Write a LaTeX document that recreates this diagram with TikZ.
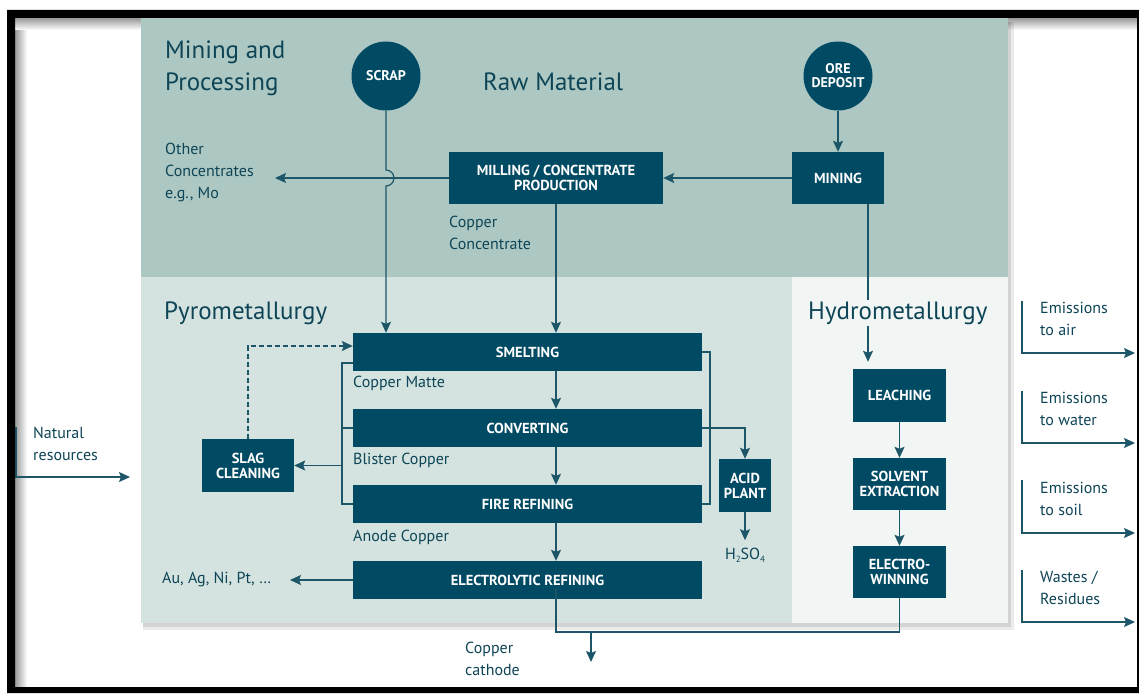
\documentclass[tikz,border=0pt]{standalone}
\usepackage{fontspec}
\setmainfont{PT Sans}
\usetikzlibrary{arrows.meta}
\definecolor{minbg}{HTML}{ADC8C3}
\definecolor{pyrobg}{HTML}{D4E3E0}
\definecolor{hydrobg}{HTML}{F1F5F4}
\definecolor{boxc}{HTML}{004A63}
\definecolor{txt}{HTML}{0E4556}
\definecolor{ln}{HTML}{1C5668}
\tikzset{
  box/.style={fill=boxc, text=white, font=\bfseries\fontsize{14.5}{18}\selectfont, align=center, inner sep=0pt},
  circ/.style={circle, fill=boxc, text=white, font=\bfseries\fontsize{14}{18}\selectfont, align=center, inner sep=0pt, minimum size=69pt},
  lbl/.style={text=txt, font=\fontsize{16}{22}\selectfont, align=left, anchor=west, inner sep=0pt},
  head/.style={text=txt, font=\fontsize{25}{32}\selectfont, align=left, anchor=west, inner sep=0pt},
  con/.style={draw=ln, line width=1.2pt},
  arr/.style={con, -{Stealth[length=11pt,width=10pt,inset=2pt]}},
}
\begin{document}
\begin{tikzpicture}[x=1pt,y=-1pt]
\useasboundingbox (0,0) rectangle (1139,693);
\fill[white] (0,0) rectangle (1139,693);
% frame inner shadows
\shade[left color=black!40, right color=white] (15,18) rectangle (27,687);
\shade[top color=black!40, bottom color=white] (15,18) rectangle (1137,30);
% shadows of panels
\fill[black,opacity=0.08] (143,22) rectangle (1014,630);
\fill[black,opacity=0.10] (143,22) rectangle (1011,627);
% panels
\fill[minbg] (141,18) rectangle (1008,277);
\fill[pyrobg] (141,277) rectangle (792,623);
\fill[hydrobg] (792,277) rectangle (1008,623);

% headings
\node[head] (hmin) at (165,68) {Mining and\\Processing};
\node[head] (hraw) at (483,82) {Raw Material};
\node[head] (hpyro) at (164,313) {Pyrometallurgy};

% circles
\node[circ] (scrap) at (386,76) {SCRAP};
\node[circ] (ore) at (838,76) {ORE\\[-4pt]DEPOSIT};

% boxes
\node[box, minimum width=214pt, minimum height=52pt] (mill) at (556,178) {MILLING / CONCENTRATE\\[-3pt]PRODUCTION};
\node[box, minimum width=92pt, minimum height=52pt] (mining) at (838,178) {MINING};
\node[box, minimum width=349pt, minimum height=38pt] (smelt) at (527.5,352) {SMELTING};
\node[box, minimum width=349pt, minimum height=38pt] (conv) at (527.5,428) {CONVERTING};
\node[box, minimum width=349pt, minimum height=38pt] (fire) at (527.5,504) {FIRE REFINING};
\node[box, minimum width=349pt, minimum height=38pt] (elec) at (527.5,580) {ELECTROLYTIC REFINING};
\node[box, minimum width=92pt, minimum height=53pt] (slag) at (248,465.5) {SLAG\\[-3pt]CLEANING};
\node[box, minimum width=52pt, minimum height=53pt] (acid) at (745,485.5) {ACID\\[-3pt]PLANT};
\node[box, minimum width=93pt, minimum height=53pt] (leach) at (899.5,395.5) {LEACHING};
\node[box, minimum width=93pt, minimum height=52pt] (solv) at (899.5,484) {SOLVENT\\[-3pt]EXTRACTION};
\node[box, minimum width=93pt, minimum height=52pt] (ew) at (899.5,572) {ELECTRO-\\[-3pt]WINNING};

% labels
\node[lbl] (other) at (165,172) {Other\\Concentrates\\e.g., Mo};
\node[lbl] (cconc) at (449,233) {Copper\\Concentrate};
\node[lbl] (matte) at (353,383) {Copper Matte};
\node[lbl] (blister) at (353,460) {Blister Copper};
\node[lbl] (anode) at (353,537) {Anode Copper};
\node[lbl] (metals) at (162,579) {Au, Ag, Ni, Pt, …};
\node[lbl, anchor=center] (h2so4) at (745,555) {H\raisebox{-3pt}{\fontsize{9}{9}\selectfont 2}SO\raisebox{-3pt}{\fontsize{9}{9}\selectfont 4}};
\node[lbl] (cath) at (465,659) {Copper\\cathode};
\node[lbl] (nat) at (33,444) {Natural\\resources};
\node[lbl] (eair) at (1040,319) {Emissions\\to air};
\node[lbl] (ewat) at (1040,409) {Emissions\\to water};
\node[lbl] (esoil) at (1040,499) {Emissions\\to soil};
\node[lbl] (waste) at (1040,588) {Wastes /\\Residues};

% coordinates
\coordinate (axis) at (556,0);
\coordinate (hx) at (868,0);
\coordinate (otherend) at (275,178);
\coordinate (lb) at (342,0);
\coordinate (rb) at (710,0);

% top part
\draw[arr] (ore) -- (mining);
\draw[arr] (mining) -- (mill);
\draw[arr] (mill.west) -- (otherend);
\draw[arr] (scrap.south) -- (386,170) arc(-90:90:8) -- (smelt.north -| scrap.south);
\draw[arr] (mill.south -| axis) -- (smelt.north -| axis);

% pyro chain
\draw[arr] (smelt.south -| axis) -- (conv.north -| axis);
\draw[arr] (conv.south -| axis) -- (fire.north -| axis);
\draw[arr] (fire.south -| axis) -- (elec.north -| axis);
% left bracket
\draw[con] (smelt.west |- 0,363) -- (lb |- 0,363) -- (lb |- fire.west) -- (fire.west);
\draw[con] (conv.west) -- (lb |- conv.west);
\draw[arr] (lb |- slag.east) -- (slag.east);
\draw[arr, dashed, dash pattern=on 5pt off 3pt] (slag.north) -- (slag.north |- 0,346) -- (smelt.west |- 0,346);
% right bracket
\draw[con] (smelt.east) -- (rb |- smelt.east) -- (rb |- fire.east) -- (fire.east);
\draw[arr] (conv.east) -- (acid.north |- conv.east) -- (acid.north);
\draw[arr] (acid.south) -- ++(0,28);
\draw[arr] (elec.west) -- (290,580);
% cathode
\coordinate (cj) at (591,632);
\draw[con] ([yshift=10pt]elec.south -| axis) -- (axis |- cj) -- (ew.south |- cj) -- (ew.south);
\draw[arr] (cj) -- ++(0,30);

% hydro
\draw[arr, shorten >=7pt] (mining.south -| hx) -- (leach.north -| hx);
\node[head, fill=hydrobg, inner ysep=2pt, inner xsep=1pt] (hhydro) at (807,313) {Hydrometallurgy};
\draw[arr] (leach) -- (solv);
\draw[arr] (solv) -- (ew);

% emissions
\draw[arr] (1022,301) -- (1022,353) -- (1135,353);
\draw[arr] (1022,391) -- (1022,443) -- (1135,443);
\draw[arr] (1022,480) -- (1022,533) -- (1135,533);
\draw[arr] (1022,570) -- (1022,622) -- (1135,622);
% natural resources
\draw[arr] (16,427) -- (16,477) -- (130,477);

% black frame
\fill[black, even odd rule] (7,10) rectangle (1139,693) (15,18) rectangle (1137,687);
\end{tikzpicture}
\end{document}
